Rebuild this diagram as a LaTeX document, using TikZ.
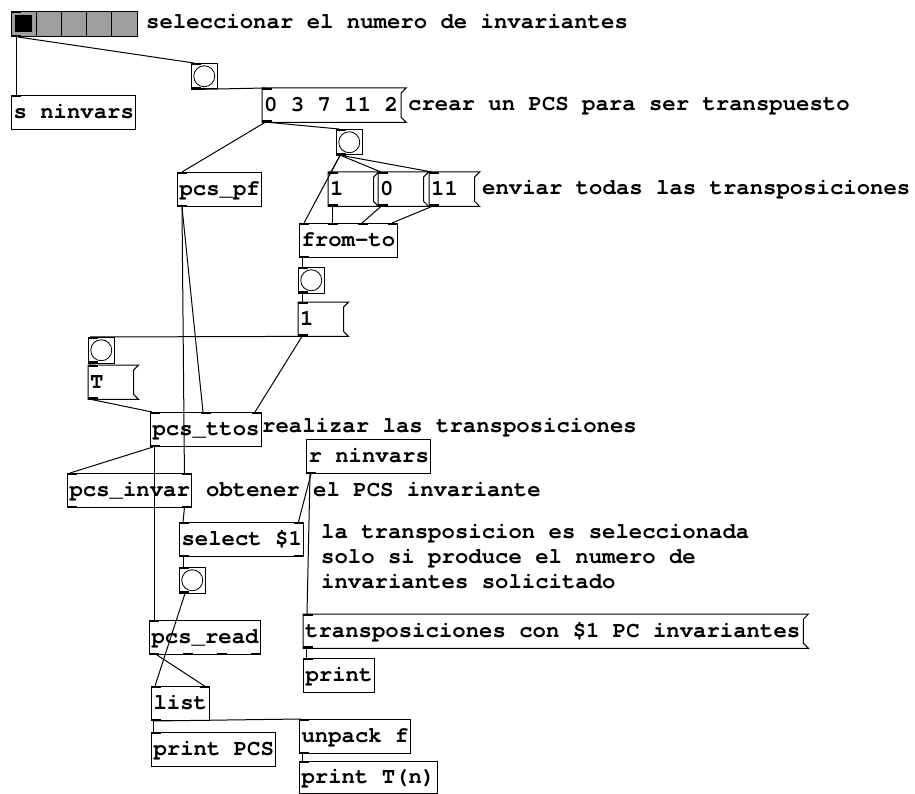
\documentclass[tikz,border=0pt]{standalone}
\usepackage{fontspec}
\setmonofont{TeX Gyre Cursor}
\usetikzlibrary{calc}
\tikzset{
  pdfont/.style={font=\ttfamily\bfseries\fontsize{22.3}{25}\selectfont},
  obj/.style={pdfont, draw, line width=1pt, inner xsep=2pt, inner ysep=0pt, minimum height=34pt, anchor=north west, text height=15pt, text depth=3pt},
  msgtext/.style={pdfont, inner xsep=2pt, inner ysep=0pt, minimum height=34pt, anchor=north west, text height=15pt, text depth=3pt},
  fixw/.style={text width=40.2pt, align=left},
  cmt/.style={pdfont, inner sep=0pt, anchor=base west},
  bangbox/.style={draw, line width=1pt, minimum size=25.5pt, inner sep=0pt, anchor=north west},
  wire/.style={line width=1pt},
  port/.style={line width=2.5pt},
}
\newcommand\msgflag[1]{\draw[line width=1pt] (#1.north west) -- ($(#1.north east)+(6,0)$) -- ($(#1.north east)+(1,5)$) -- ($(#1.south east)+(1,-5)$) -- ($(#1.south east)+(6,0)$) -- (#1.south west) -- cycle;}
\newcommand\pdin[2]{\draw[port] ($(#1.north west)+(#2,1.2)$) -- ++(10,0);}
\newcommand\pdout[2]{\draw[port] ($(#1.south west)+(#2,-1.2)$) -- ++(10,0);}
\newcommand\pdinR[1]{\draw[port] ($(#1.north east)+(-10,1.2)$) -- ++(10,0);}
\newcommand\pdoutR[1]{\draw[port] ($(#1.south east)+(-10,-1.2)$) -- ++(10,0);}
\newcommand\bangcirc[1]{\draw[line width=0.8pt] (#1.center) circle[radius=10.5pt];}
\begin{document}
\begin{tikzpicture}[x=1pt,y=-1pt]
\useasboundingbox (0,0) rectangle (915,794);
\fill[white] (0,0) rectangle (915,794);

% ---------- hradio ----------
\node[draw, line width=1pt, fill=black!38, minimum width=126pt, minimum height=25pt, inner sep=0pt, anchor=north west] (hr) at (11,11) {};
\foreach \i in {1,2,3,4} \draw[line width=1pt] ($(hr.north west)+(25.2*\i,0)$) -- ($(hr.south west)+(25.2*\i,0)$);
\fill ($(hr.north west)+(4,4)$) rectangle ($(hr.north west)+(21,21)$);

% ---------- bangs ----------
\node[bangbox] (b1) at (191,63) {};
\node[bangbox] (b2) at (336,129) {};
\node[bangbox] (b3) at (298,267) {};
\node[bangbox] (bT) at (88,337) {};
\node[bangbox] (b4) at (179,567) {};
\foreach \b in {b1,b2,b3,bT,b4} {\bangcirc{\b}}

% ---------- objects ----------
\node[obj] (sninv) at (11,95) {s ninvars};
\node[obj] (pf) at (177,172) {pcs\_pf};
\node[obj] (ft) at (299,223) {from-to};
\node[obj] (tt) at (150,412) {pcs\_ttos};
\node[obj] (rn) at (306,439) {r ninvars};
\node[obj] (inv) at (67,473) {pcs\_invar};
\node[obj] (sel) at (179,522) {select \$1};
\node[obj] (rd) at (149,620) {pcs\_read};
\node[obj] (pr) at (303,658) {print};
\node[obj] (ls) at (151,686) {list};
\node[obj] (up) at (299,719) {unpack f};
\node[obj] (pP) at (151,732) {print PCS};
\node[obj, minimum height=32pt] (pT) at (299,761) {print T(n)};

% ---------- messages ----------
\node[msgtext] (m1) at (262,88) {0 3 7 11 2};
\node[msgtext, fixw] (mA) at (328,172) {1};
\node[msgtext, fixw] (mB) at (378,172) {0};
\node[msgtext, fixw] (mC) at (429,172) {11};
\node[msgtext, fixw] (m1b) at (298,302) {1};
\node[msgtext, fixw] (mT) at (88,365) {T};
\node[msgtext] (tr) at (303,614) {transposiciones con \$1 PC invariantes};
\foreach \m in {m1,mA,mB,mC,m1b,mT,tr} {\msgflag{\m}}

% ---------- comments ----------
\node[cmt] (c1) at (146,29) {seleccionar el numero de invariantes};
\node[cmt] (c2) at (408,111) {crear un PCS para ser transpuesto};
\node[cmt] (c3) at (482,195) {enviar todas las transposiciones};
\node[cmt] (c4) at (262,432) {realizar las transposiciones};
\node[cmt] (c5) at (206,496) {obtener el PCS invariante};
\node[cmt] (c6a) at (321,538) {la transposicion es seleccionada};
\node[cmt] (c6b) at (321,563) {solo si produce el numero de};
\node[cmt] (c6c) at (321,588) {invariantes solicitado};

% ---------- ports ----------
\pdin{hr}{0} \pdout{hr}{0}
\foreach \b in {b1,b2,b3,bT,b4} {\pdin{\b}{0} \pdout{\b}{0}}
\pdin{sninv}{0}
\foreach \m in {m1,mA,mB,mC,m1b,mT,tr} {\pdin{\m}{0} \pdout{\m}{0}}
\pdin{pf}{0} \pdout{pf}{0}
\pdin{ft}{0} \pdin{ft}{29.3} \pdin{ft}{58.5} \pdinR{ft} \pdout{ft}{0}
\pdin{tt}{0} \pdin{tt}{50.6} \pdinR{tt} \pdout{tt}{0}
\pdout{rn}{0}
\pdin{inv}{0} \pdinR{inv} \pdout{inv}{0} \pdoutR{inv}
\pdin{sel}{0} \pdinR{sel} \pdout{sel}{0} \pdoutR{sel}
\pdin{rd}{0} \pdout{rd}{0} \pdout{rd}{33.7} \pdout{rd}{67.5} \pdoutR{rd}
\pdin{ls}{0} \pdinR{ls} \pdout{ls}{0}
\pdin{up}{0} \pdout{up}{0}
\pdin{pr}{0} \pdin{pP}{0} \pdin{pT}{0}

% ---------- wires ----------
\draw[wire] ($(hr.south west)+(5,0)$) -- ($(sninv.north west)+(5,0)$);
\draw[wire] ($(hr.south west)+(7,0)$) -- ($(b1.north west)+(3,0)$);
\draw[wire] ($(b1.south west)+(3,0)$) -- ($(m1.north west)+(3,0)$);
\draw[wire] ($(m1.south west)+(3,0)$) -- ($(pf.north west)+(5,0)$);
\draw[wire] ($(m1.south west)+(7,0)$) -- ($(b2.north west)+(3,0)$);
\draw[wire] ($(b2.south west)+(4,0)$) -- ($(mA.north west)+(3,0)$);
\draw[wire] ($(b2.south west)+(5,0)$) -- ($(mB.north west)+(3,0)$);
\draw[wire] ($(b2.south west)+(6,0)$) -- ($(mC.north west)+(3,0)$);
\draw[wire] ($(b2.south west)+(4,0)$) -- ($(ft.north west)+(5,0)$);
\draw[wire] ($(mA.south west)+(4,0)$) -- ($(ft.north west)+(33,0)$);
\draw[wire] ($(mB.south west)+(3,0)$) -- ($(ft.north west)+(63,0)$);
\draw[wire] ($(mC.south west)+(3,0)$) -- ($(ft.north west)+(93,0)$);
\draw[wire] ($(ft.south west)+(3,0)$) -- ($(b3.north west)+(4,0)$);
\draw[wire] ($(b3.south west)+(4,0)$) -- ($(m1b.north west)+(4,0)$);
\draw[wire] ($(m1b.south west)+(2,0)$) -- ($(bT.north west)+(2,0)$);
\draw[wire] ($(m1b.south west)+(4,0)$) -- ($(tt.north west)+(105,0)$);
\draw[wire] ($(bT.south west)+(2,0)$) -- ($(mT.north west)+(2,0)$);
\draw[wire] ($(mT.south west)+(3,0)$) -- ($(tt.north west)+(2,0)$);
\draw[wire] ($(pf.south west)+(5,0)$) -- ($(inv.north east)+(-8,0)$);
\draw[wire] ($(pf.south west)+(5,0)$) -- ($(tt.north west)+(53,0)$);
\draw[wire] ($(tt.south west)+(3,0)$) -- ($(inv.north west)+(3,0)$);
\draw[wire] ($(tt.south west)+(4,0)$) -- ($(rd.north west)+(5,0)$);
\draw[wire] ($(inv.south east)+(-8,0)$) -- ($(sel.north west)+(4,0)$);
\draw[wire] ($(rn.south west)+(5,0)$) -- ($(sel.north east)+(-6,0)$);
\draw[wire] ($(rn.south west)+(4,0)$) -- ($(tr.north west)+(4,0)$);
\draw[wire] ($(sel.south west)+(4,0)$) -- ($(b4.north west)+(4,0)$);
\draw[wire] ($(b4.south west)+(6,0)$) -- ($(ls.north west)+(4,0)$);
\draw[wire] ($(rd.south west)+(8,0)$) -- ($(ls.north east)+(-5,0)$);
\draw[wire] ($(ls.south west)+(2,0)$) -- ($(pP.north west)+(2,0)$);
\draw[wire] ($(ls.south west)+(2,0)$) -- ($(up.north west)+(2,0)$);
\draw[wire] ($(up.south west)+(3,0)$) -- ($(pT.north west)+(3,0)$);
\draw[wire] ($(tr.south west)+(3,0)$) -- ($(pr.north west)+(3,0)$);
\end{tikzpicture}
\end{document}
